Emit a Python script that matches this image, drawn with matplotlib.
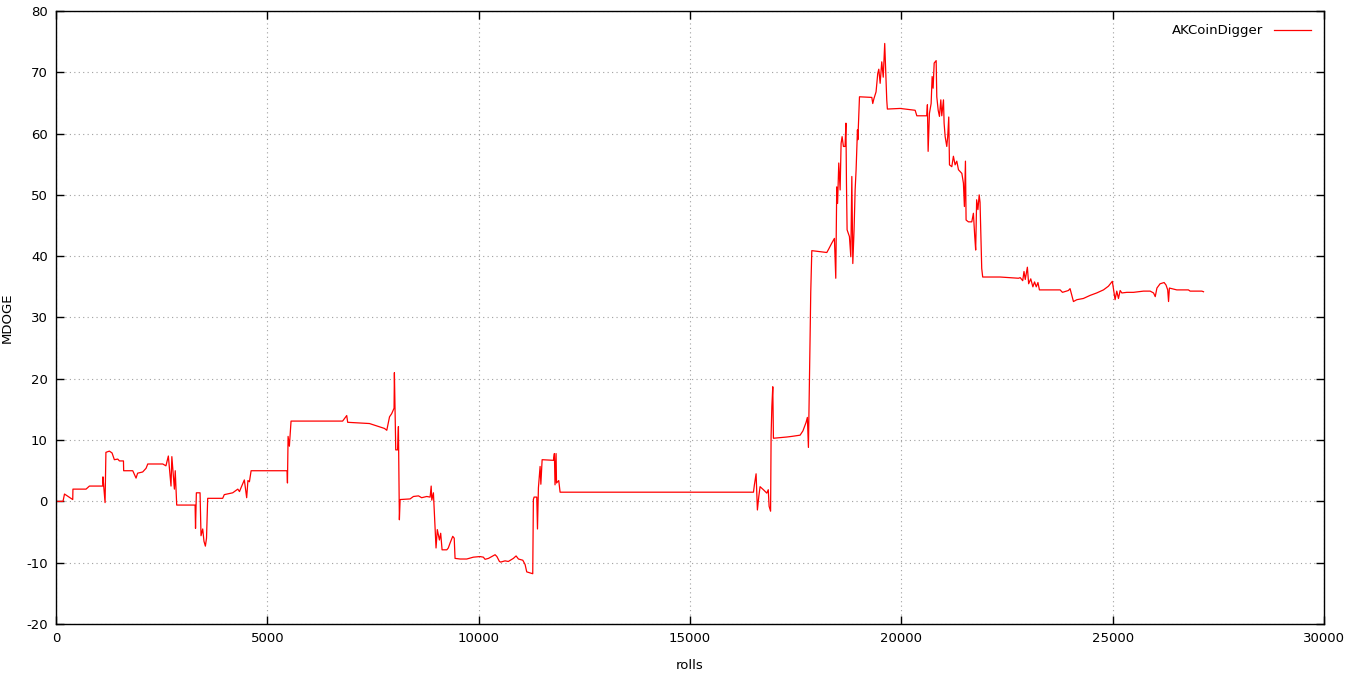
#!/usr/bin/env python3
import matplotlib
matplotlib.use("Agg")
import matplotlib.pyplot as plt

# Saldo ao longo das rolagens.
rolls = [
    0, 165, 200, 395, 400, 710, 790, 1105, 1110, 1160, 1180, 1262, 1325, 1380,
    1460, 1500, 1595, 1600, 1815, 1893, 1930, 2050, 2130, 2170, 2525, 2600, 2657,
    2720, 2740, 2800, 2820, 2855, 3290, 3300, 3320, 3407, 3430, 3470, 3500,
    3533, 3560, 3588, 3943, 3980, 4180, 4300, 4340, 4375, 4455, 4510, 4540,
    4575, 4615, 5465, 5475, 5490, 5520, 5560, 6780, 6877, 6900, 7415, 7770,
    7825, 7890, 7940, 7997, 8005, 8037, 8080, 8100, 8123, 8140, 8376, 8455,
    8575, 8650, 8770, 8850, 8875, 8890, 8928, 8970, 8990, 9020, 9070, 9100,
    9133, 9245, 9280, 9322, 9385, 9420, 9440, 9560, 9717, 9873, 10030, 10110,
    10150, 10230, 10310, 10387, 10430, 10490, 10520, 10623, 10700, 10820,
    10884, 10940, 11043, 11097, 11136, 11278, 11293, 11310, 11373, 11390,
    11412, 11452, 11470, 11500, 11768, 11790, 11805, 11830, 11840, 11893,
    11925, 16500, 16522, 16562, 16593, 16626, 16656, 16735, 16815, 16850,
    16870, 16905, 16917, 16935, 16957, 16972, 17287, 17405, 17603, 17670,
    17745, 17775, 17800, 17823, 17840, 17855, 17880, 18235, 18275, 18350,
    18415, 18447, 18470, 18490, 18518, 18550, 18573, 18597, 18628, 18667,
    18687, 18700, 18715, 18770, 18803, 18827, 18850, 18880, 18905, 18928,
    18960, 18970, 19008, 19300, 19322, 19350, 19400, 19440, 19465, 19497,
    19535, 19570, 19605, 19637, 19653, 19668, 19970, 20325, 20365, 20600,
    20615, 20632, 20663, 20703, 20727, 20750, 20775, 20822, 20837, 20870,
    20900, 20932, 20955, 20995, 21010, 21035, 21073, 21095, 21120, 21137,
    21192, 21230, 21270, 21310, 21350, 21430, 21467, 21490, 21515, 21530,
    21585, 21665, 21703, 21735, 21757, 21780, 21810, 21840, 21860, 21900,
    21923, 22335, 22770, 22810, 22870, 22900, 22930, 22980, 23010, 23060,
    23110, 23150, 23190, 23230, 23265, 23755, 23810, 23950, 23990, 24070,
    24150, 24305, 24463, 24620, 24780, 24897, 24990, 25015, 25055, 25095,
    25135, 25175, 25215, 25333, 25490, 25727, 25885, 25965, 26005, 26045,
    26120, 26215, 26260, 26300, 26320, 26340, 26515, 26790, 26830, 26990,
    27108, 27147,
]
mdoge = [
    0.0, 0.0, 1.2, 0.3, 2.0, 2.0, 2.5, 2.5, 4.0, -0.2, 8.0, 8.2, 7.9, 6.8,
    6.9, 6.6, 6.6, 5.0, 5.0, 3.8, 4.6, 4.8, 5.4, 6.1, 6.1, 5.8, 7.4,
    2.5, 7.3, 2.0, 5.0, -0.6, -0.6, -4.4, 1.4, 1.4, -5.6, -4.5, -6.5,
    -7.3, -6.0, 0.5, 0.5, 1.1, 1.4, 2.0, 1.6, 2.2, 3.5, 0.6, 3.4,
    3.2, 5.0, 5.0, 3.0, 10.6, 9.0, 13.1, 13.1, 14.0, 12.9, 12.7, 11.9,
    11.6, 13.8, 14.3, 15.2, 21.0, 8.4, 8.4, 12.2, -3.0, 0.3, 0.4, 0.8,
    0.9, 0.6, 0.8, 0.7, 2.5, 0.2, 1.4, -4.6, -7.6, -4.6, -6.3, -5.2,
    -7.9, -7.9, -7.6, -6.8, -5.7, -6.0, -9.3, -9.4, -9.4, -9.1, -9.0, -9.1,
    -9.45, -9.3, -9.0, -8.7, -9.0, -9.8, -9.9, -9.7, -9.8, -9.3,
    -8.9, -9.4, -9.6, -10.3, -11.5, -11.8, 0.3, 0.7, 0.7, -4.5,
    2.2, 5.7, 2.8, 6.8, 6.7, 7.8, 2.7, 7.8, 3.0, 3.4,
    1.5, 1.5, 2.7, 4.5, -1.4, 0.8, 2.4, 1.9, 1.35, 1.9,
    -0.8, -1.6, 10.7, 15.5, 18.7, 10.3, 10.5, 10.6, 10.8, 11.5,
    12.9, 13.7, 8.8, 20.0, 27.0, 34.1, 40.9, 40.6, 41.1, 42.1,
    42.9, 36.4, 51.3, 48.6, 55.2, 50.8, 58.4, 59.5, 57.9, 57.9,
    61.7, 51.9, 44.3, 43.2, 39.9, 53.0, 38.8, 44.3, 50.8, 54.1,
    60.6, 59.0, 66.0, 65.9, 64.9, 65.7, 66.8, 69.8, 70.5, 68.2,
    71.7, 69.2, 74.7, 68.7, 65.5, 64.0, 64.1, 63.8, 62.9, 62.9,
    64.7, 57.1, 63.3, 64.9, 69.3, 67.4, 71.5, 71.9, 66.0, 63.8,
    62.8, 65.5, 62.9, 65.5, 61.7, 59.5, 57.9, 59.5, 62.7, 54.9,
    54.6, 56.3, 54.9, 55.5, 54.1, 53.5, 51.9, 48.1, 55.5, 45.9,
    45.6, 45.6, 47.0, 43.2, 41.0, 49.2, 47.6, 50.0, 48.8, 38.0,
    36.6, 36.6, 36.4, 36.5, 36.0, 37.5, 36.2, 38.2, 35.5, 36.3,
    35.0, 35.8, 35.0, 35.7, 34.5, 34.5, 34.1, 34.4, 34.7, 32.6,
    32.9, 33.1, 33.6, 34.0, 34.5, 35.1, 35.9, 34.7, 32.9, 34.3,
    33.1, 34.4, 34.0, 34.1, 34.1, 34.3, 34.3, 34.0, 33.4, 34.8,
    35.5, 35.7, 35.3, 34.5, 32.6, 34.8, 34.5, 34.5, 34.3, 34.3,
    34.3, 34.2,
]
serie = "AKCoinDigger"
x_ticks = list(range(0, 30001, 5000))
y_ticks = list(range(-20, 81, 10))


def main():
    plt.rcParams["font.family"] = ["DejaVu Sans"]
    plt.rcParams["font.size"] = 9.5
    plt.rcParams["axes.unicode_minus"] = False

    fig = plt.figure(figsize=(13.47, 6.77), dpi=100)
    ax = fig.add_axes([0.0416, 0.0783, 0.9414, 0.9055])

    ax.plot(rolls, mdoge, color="#ff0000", linewidth=0.9, label=serie)

    ax.set_xlim(0, 30000)
    ax.set_ylim(-20, 80)
    ax.set_xticks(x_ticks)
    ax.set_yticks(y_ticks)
    ax.tick_params(direction="in", length=6, width=1, top=True, right=True,
                   colors="black", pad=6)
    ax.grid(True, color="#a0a0a0", linestyle=(0, (1, 3)), linewidth=0.8)
    for s in ax.spines.values():
        s.set_linewidth(1.0)
        s.set_color("black")

    ax.set_xlabel("rolls", labelpad=10)
    ax.set_ylabel("MDOGE", labelpad=9)

    ax.legend(loc="upper right", frameon=False, markerfirst=False,
              handlelength=2.8, borderaxespad=0.6, fontsize=9.5)

    fig.savefig("out.png", dpi=100)


if __name__ == "__main__":
    main()
